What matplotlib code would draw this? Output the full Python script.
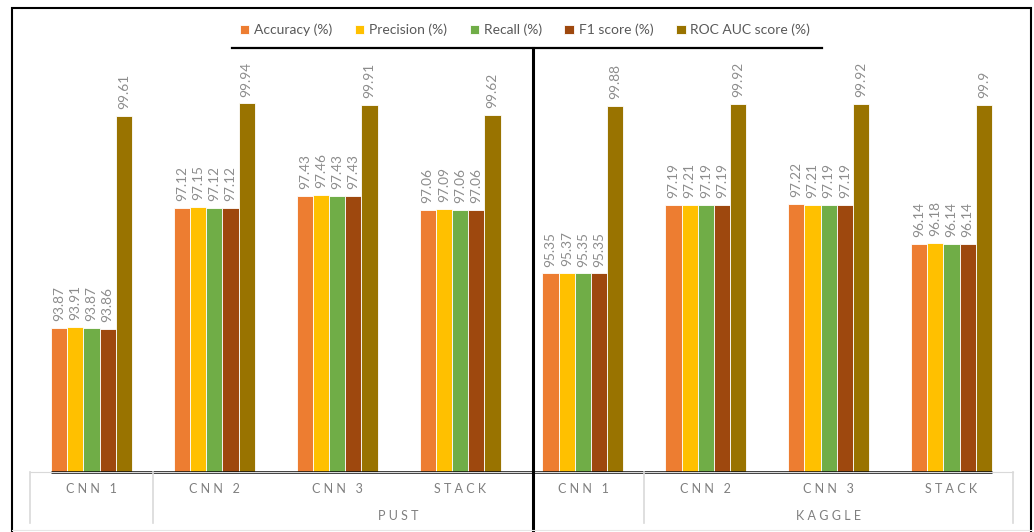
import numpy as np
import matplotlib.pyplot as plt
from matplotlib.lines import Line2D
from matplotlib.patches import Rectangle

plt.rcParams['font.family'] = ['Lato', 'DejaVu Sans']

# scores per model (%), PUST models first then KAGGLE
models = ['CNN 1', 'CNN 2', 'CNN 3', 'STACK', 'CNN 1', 'CNN 2', 'CNN 3', 'STACK']
accuracy = [93.87, 97.12, 97.43, 97.06, 95.35, 97.19, 97.22, 96.14]
precision = [93.91, 97.15, 97.46, 97.09, 95.37, 97.21, 97.21, 96.18]
recall = [93.87, 97.12, 97.43, 97.06, 95.35, 97.19, 97.19, 96.14]
f1 = [93.86, 97.12, 97.43, 97.06, 95.35, 97.19, 97.19, 96.14]
roc_auc = [99.61, 99.94, 99.91, 99.62, 99.88, 99.92, 99.92, 99.9]

series = [accuracy, precision, recall, f1, roc_auc]
names = ['Accuracy (%)', 'Precision (%)', 'Recall (%)', 'F1 score (%)', 'ROC AUC score (%)']
colors = ['#ED7D31', '#FFC000', '#70AD47', '#9E480E', '#997300']

# second row of category labels and how many groups each one spans
outer_labels = ['', 'PUST', 'KAGGLE']
outer_sizes = [1, 4, 3]

W, H = 1034, 532
fig = plt.figure(figsize=(W / 100, H / 100), dpi=100)
ax = fig.add_axes([30 / W, 60.4 / H, 983 / W, 407.4 / H])

x = np.arange(len(models))
w = 0.1317
for i, (vals, name, c) in enumerate(zip(series, names, colors)):
    xs = x + (i - 2) * w
    ax.bar(xs, vals, w, color=c, edgecolor='white', linewidth=0.6, label=name)
    for xi, v in zip(xs, vals):
        ax.annotate(f'{v:g}', (xi, v), xytext=(0, 5), textcoords='offset points',
                    rotation=90, ha='center', va='bottom', fontsize=9.8, color='#8c8c8c')

ax.set_xlim(-0.5, len(models) - 0.5)
ax.set_ylim(90, 101)
ax.set_xticks([])
ax.set_yticks([])
for s in ['top', 'left', 'right']:
    ax.spines[s].set_visible(False)
ax.spines['bottom'].set_color('#d9d9d9')

# black base line under the bars
ax.plot([x[0] - 2.5 * w, x[-1] + 2.5 * w], [90, 90], color='black', lw=1.8,
        clip_on=False, solid_capstyle='butt')

tr = ax.get_xaxis_transform()
for xi, m in zip(x, models):
    ax.text(xi, -0.043, ' '.join(m), transform=tr, ha='center', va='center',
            fontsize=9, color='#7f7f7f')

bounds = np.concatenate([[0], np.cumsum(outer_sizes)]) - 0.5
for b in bounds:
    ax.plot([b, b], [0, -0.127], transform=tr, color='#d9d9d9', lw=1.2, clip_on=False)
for lab, b0, b1 in zip(outer_labels, bounds[:-1], bounds[1:]):
    ax.text((b0 + b1) / 2, -0.109, ' '.join(lab), transform=tr, ha='center',
            va='center', fontsize=9, color='#7f7f7f')

leg = fig.legend(loc='center', bbox_to_anchor=(525 / W, 1 - 30 / H), ncol=5,
                 frameon=False, fontsize=10, handlelength=0.7, handleheight=0.7,
                 handletextpad=0.35, columnspacing=1.6)
for t in leg.get_texts():
    t.set_color('#595959')

# frame, legend underline and the divider between the two datasets
fig.add_artist(Line2D([232 / W, 822 / W], [1 - 48 / H] * 2, color='black', lw=1.6))
fig.add_artist(Line2D([533 / W] * 2, [1 - 48 / H, 0], color='black', lw=2.2))
fig.add_artist(Line2D([12 / W, 1031 / W], [2 / H] * 2, color='#e6e6e6', lw=0.8))
fig.add_artist(Rectangle((12 / W, -0.05), 1019 / W, 1.05 - 8 / H, transform=fig.transFigure,
                         fill=False, edgecolor='black', lw=1.5))

fig.savefig('out.png', dpi=100)
